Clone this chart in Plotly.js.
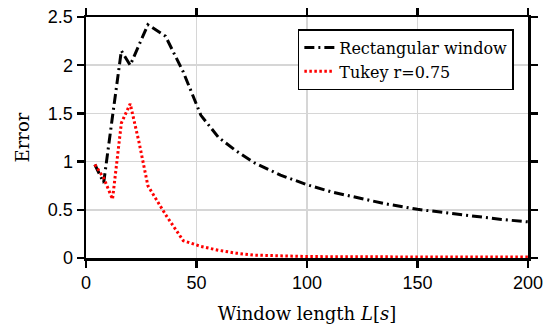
<!DOCTYPE html>
<html><head><meta charset="utf-8">
<script src="https://cdn.plot.ly/plotly-3.0.1.min.js"></script>
<style>html,body{margin:0;padding:0;background:#fff;}</style>
</head><body>
<div id="chart" style="width:547px;height:329px;"></div>
<script>
const rectX = [4, 8, 12, 16, 20, 28, 36, 44, 52, 60, 68, 76, 88, 100, 112, 124, 136, 150, 162, 176, 188, 200];
const rectY = [0.97, 0.78, 1.47, 2.15, 2.0, 2.42, 2.3, 1.93, 1.48, 1.25, 1.11, 0.99, 0.86, 0.76, 0.68, 0.62, 0.56, 0.505, 0.47, 0.43, 0.40, 0.375];
const tukeyX = [4, 8, 12, 16, 20, 24, 28, 36, 44, 52, 60, 68, 76, 88, 100, 125, 150, 175, 200];
const tukeyY = [0.97, 0.83, 0.61, 1.4, 1.6, 1.2, 0.75, 0.45, 0.18, 0.12, 0.08, 0.05, 0.03, 0.02, 0.015, 0.012, 0.01, 0.01, 0.01];
const seriesNames = ['Rectangular window', 'Tukey r=0.75'];
const xTicks = [0, 50, 100, 150, 200];
const yTicks = [0, 0.5, 1, 1.5, 2, 2.5];

const serif = "'DejaVu Serif', 'Liberation Serif', serif";
const sans = "'Liberation Sans', Arial, sans-serif";

const axisCommon = {
  showline: true, linecolor: '#000', linewidth: 2.5, mirror: 'allticks',
  ticks: 'outside', ticklen: 7, tickwidth: 2.5, tickcolor: '#000',
  showgrid: true, gridcolor: '#d6d6d6', gridwidth: 1.5, zeroline: false,
  tickfont: {family: sans, size: 18, color: '#000'}
};

const data = [
  {x: rectX, y: rectY, mode: 'lines', name: seriesNames[0],
   line: {color: '#000', width: 3, dash: '10px,4px,2px,4px'}},
  {x: tukeyX, y: tukeyY, mode: 'lines', name: seriesNames[1],
   line: {color: '#ff0000', width: 3, dash: '2.5px,2.5px'}}
];

const layout = {
  width: 547, height: 329,
  margin: {l: 86, r: 19, t: 17, b: 71},
  paper_bgcolor: '#fff', plot_bgcolor: '#fff',
  showlegend: true,
  legend: {x: 0.968, y: 0.95, xanchor: 'right', yanchor: 'top',
    bgcolor: '#fff', bordercolor: '#000', borderwidth: 1.5,
    font: {family: serif, size: 16, color: '#000'}, tracegroupgap: 0},
  xaxis: Object.assign({}, axisCommon, {
    range: [0, 200], tickvals: xTicks, ticktext: xTicks.map(String),
    title: {text: 'Window length <i>L</i>[<i>s</i>]', font: {family: serif, size: 18, color: '#000'}, standoff: 16}
  }),
  yaxis: Object.assign({}, axisCommon, {
    range: [0, 2.5], tickvals: yTicks, ticktext: yTicks.map(String),
    title: {text: 'Error', font: {family: serif, size: 18, color: '#000'}, standoff: 14}
  })
};

Plotly.newPlot('chart', data, layout, {displayModeBar: false, staticPlot: true});
</script>
</body></html>
